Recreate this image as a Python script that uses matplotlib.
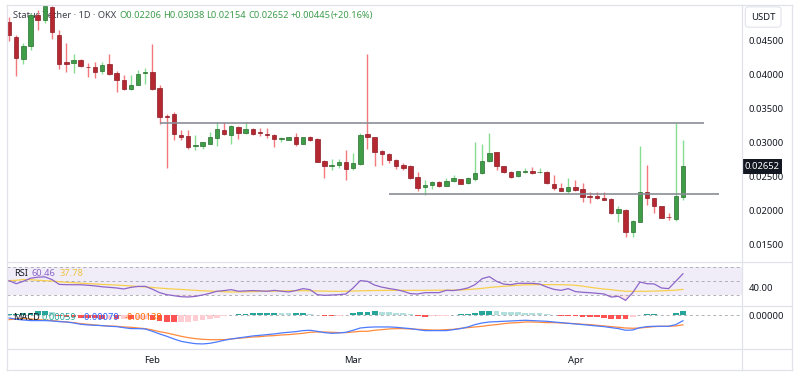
import numpy as np
import pandas as pd
import matplotlib
matplotlib.use('Agg')
import matplotlib.pyplot as plt
import matplotlib.transforms as mtransforms
from matplotlib.lines import Line2D

plt.rcParams['font.family'] = ['Noto Sans', 'DejaVu Sans']

# ---- data ----
start_date = '2025-01-12'

opens = [0.04767, 0.04548, 0.04226, 0.04416, 0.04877, 0.04793, 0.04988, 0.04573, 0.04177, 0.04167,
         0.04207, 0.04114, 0.04108, 0.04050, 0.04158, 0.04026, 0.03924, 0.03792, 0.03845, 0.04021,
         0.04035, 0.03801, 0.03393, 0.03415, 0.03111, 0.03097, 0.02946, 0.02946, 0.02979, 0.03067,
         0.03191, 0.03111, 0.03229, 0.03141, 0.03199, 0.03151, 0.03122, 0.03107, 0.03048, 0.03044,
         0.03078, 0.02971, 0.03088, 0.03059, 0.02730, 0.02657, 0.02672, 0.02711, 0.02623, 0.02682,
         0.03132, 0.03088, 0.02877, 0.02833, 0.02740, 0.02667, 0.02657, 0.02487, 0.02340, 0.02374,
         0.02413, 0.02359, 0.02437, 0.02466, 0.02399, 0.02462, 0.02545, 0.02726, 0.02862, 0.02652,
         0.02569, 0.02506, 0.02569, 0.02579, 0.02560, 0.02569, 0.02388, 0.02334, 0.02290, 0.02345,
         0.02311, 0.02208, 0.02208, 0.02188, 0.02164, 0.01968, 0.02007, 0.01689, 0.01836, 0.02267,
         0.02188, 0.02066, 0.01909, 0.01880, 0.02206]
highs = [0.04842, 0.04573, 0.04456, 0.04900, 0.04940, 0.05013, 0.04999, 0.04657, 0.04466, 0.04295,
         0.04221, 0.04167, 0.04182, 0.04182, 0.04295, 0.04045, 0.03987, 0.03987, 0.04070, 0.04100,
         0.04452, 0.03840, 0.03425, 0.03449, 0.03191, 0.03191, 0.03107, 0.03004, 0.03155, 0.03302,
         0.03302, 0.03254, 0.03239, 0.03302, 0.03210, 0.03214, 0.03214, 0.03132, 0.03078, 0.03085,
         0.03147, 0.03088, 0.03092, 0.03070, 0.02740, 0.02755, 0.02751, 0.02887, 0.02847, 0.03147,
         0.04305, 0.03088, 0.02897, 0.02847, 0.02751, 0.02692, 0.02667, 0.02564, 0.02447, 0.02437,
         0.02440, 0.02477, 0.02516, 0.02469, 0.02487, 0.03009, 0.02985, 0.03141, 0.02865, 0.02660,
         0.02584, 0.02584, 0.02623, 0.02643, 0.02623, 0.02579, 0.02520, 0.02399, 0.02472, 0.02447,
         0.02408, 0.02276, 0.02276, 0.02276, 0.02179, 0.02066, 0.02026, 0.01861, 0.02946, 0.02667,
         0.02188, 0.02073, 0.01959, 0.03287, 0.03038]
lows = [0.04490, 0.03972, 0.04148, 0.04353, 0.04647, 0.04754, 0.04525, 0.04075, 0.04035, 0.04021,
        0.04104, 0.03962, 0.03953, 0.04001, 0.03994, 0.03738, 0.03767, 0.03767, 0.03845, 0.03865,
        0.03767, 0.03279, 0.02619, 0.03044, 0.03034, 0.02912, 0.02887, 0.02912, 0.02975, 0.02950,
        0.03107, 0.02971, 0.03048, 0.03132, 0.03117, 0.03092, 0.03073, 0.02927, 0.03009, 0.03034,
        0.02956, 0.02971, 0.03026, 0.02711, 0.02481, 0.02594, 0.02623, 0.02447, 0.02594, 0.02667,
        0.02912, 0.02652, 0.02677, 0.02692, 0.02604, 0.02594, 0.02457, 0.02290, 0.02227, 0.02311,
        0.02349, 0.02359, 0.02422, 0.02384, 0.02388, 0.02437, 0.02535, 0.02715, 0.02594, 0.02545,
        0.02481, 0.02496, 0.02545, 0.02542, 0.02545, 0.02388, 0.02301, 0.02290, 0.02252, 0.02293,
        0.02129, 0.02114, 0.02164, 0.02149, 0.01944, 0.01831, 0.01616, 0.01607, 0.01836, 0.02081,
        0.01959, 0.01885, 0.01861, 0.01846, 0.02154]
closes = [0.04573, 0.04246, 0.04416, 0.04867, 0.04803, 0.04999, 0.04622, 0.04158, 0.04153, 0.04217,
          0.04119, 0.04104, 0.04041, 0.04144, 0.04001, 0.03924, 0.03786, 0.03851, 0.04012, 0.04035,
          0.03786, 0.03375, 0.03378, 0.03122, 0.03082, 0.02927, 0.02960, 0.03004, 0.03078, 0.03199,
          0.03122, 0.03239, 0.03141, 0.03199, 0.03132, 0.03141, 0.03111, 0.03048, 0.03063, 0.03078,
          0.02971, 0.03088, 0.03034, 0.02716, 0.02657, 0.02667, 0.02711, 0.02613, 0.02692, 0.03117,
          0.03082, 0.02868, 0.02829, 0.02740, 0.02652, 0.02633, 0.02476, 0.02325, 0.02378, 0.02422,
          0.02355, 0.02437, 0.02472, 0.02388, 0.02472, 0.02545, 0.02730, 0.02853, 0.02652, 0.02569,
          0.02496, 0.02575, 0.02579, 0.02545, 0.02569, 0.02399, 0.02325, 0.02290, 0.02345, 0.02301,
          0.02202, 0.02202, 0.02183, 0.02154, 0.01959, 0.02018, 0.01680, 0.01846, 0.02267, 0.02179,
          0.02066, 0.01894, 0.01900, 0.02213, 0.02652]
last_change = 0.00445
last_change_pct = 20.16

# horizontal levels drawn on the chart: price, first bar, last bar
resistance = [0.03293, 21, 97]
support = [0.02249, 53, 99]

rsi = [50.5, 46, 49.5, 54, 55.5, 56, 52, 45, 44.6, 44.5,
       44.5, 43.7, 42.8, 41.5, 40.7, 39.8, 38.3, 40.7, 42, 42.2,
       38, 33, 30, 28.5, 27, 26.6, 27.5, 29.5, 32, 35,
       36, 37.3, 35, 35.5, 36, 35.5, 35, 36.3, 35, 34,
       36, 38.8, 37.3, 30, 29, 29.5, 30, 31, 39.8, 50.5,
       49.5, 44, 41, 39, 37.3, 35, 31.5, 31, 32.9, 33,
       33, 36.3, 36, 37.5, 39.8, 44.6, 53.4, 56.3, 49.5, 45.5,
       44.6, 46.6, 46.6, 46.6, 45.6, 41.2, 37.8, 36.3, 38.8, 34.5,
       33.5, 32.9, 32, 31, 26.5, 27.6, 21.7, 32.9, 48.5, 46,
       45.6, 39.8, 38.8, 49.5, 60.46]
rsi_ma = [50.5, 51, 52, 51.8, 51, 50.5, 49.8, 49, 48, 47.5,
          46.8, 46.2, 45.6, 45, 44.5, 44, 43.4, 42.7, 42, 41.3,
          40.5, 39.6, 38.8, 38.2, 37.6, 37, 36.3, 35.7, 35.2, 34.8,
          34.3, 33.9, 34, 34.2, 34.5, 34.8, 34.9, 35.2, 35.5, 35.7,
          35.9, 35.8, 35.6, 35.4, 35.2, 34.9, 34.9, 35, 35.3, 35.6,
          35.9, 36.1, 36.2, 36.3, 36.3, 36.3, 36.3, 36.3, 36.3, 36.4,
          36.5, 36.6, 36.7, 36.9, 37.5, 38.3, 39.2, 40.5, 41.4, 42.2,
          43, 43.8, 44.4, 44.6, 44.7, 44.7, 44.6, 44.6, 44.3, 43.7,
          42.5, 40.8, 39.5, 38.2, 37.3, 36, 35, 34.9, 34.9, 35,
          35.3, 35.6, 36, 36.6, 37.78]

macd = [-0.00039, -0.00058, -0.00068, -0.00077, -0.00077, -0.00077, -0.00082, -0.00092, -0.00097, -0.00111,
        -0.00130, -0.00140, -0.00145, -0.00150, -0.00159, -0.00164, -0.00179, -0.00193, -0.00193, -0.00198,
        -0.00232, -0.00270, -0.00304, -0.00343, -0.00377, -0.00396, -0.00411, -0.00415, -0.00406, -0.00386,
        -0.00362, -0.00343, -0.00328, -0.00314, -0.00299, -0.00290, -0.00280, -0.00270, -0.00256, -0.00246,
        -0.00237, -0.00222, -0.00217, -0.00232, -0.00251, -0.00261, -0.00256, -0.00246, -0.00217, -0.00184,
        -0.00174, -0.00169, -0.00169, -0.00169, -0.00174, -0.00184, -0.00193, -0.00208, -0.00222, -0.00222,
        -0.00222, -0.00222, -0.00208, -0.00193, -0.00169, -0.00135, -0.00111, -0.00097, -0.00092, -0.00087,
        -0.00082, -0.00077, -0.00072, -0.00077, -0.00082, -0.00087, -0.00097, -0.00106, -0.00116, -0.00126,
        -0.00135, -0.00145, -0.00155, -0.00164, -0.00179, -0.00193, -0.00217, -0.00213, -0.00179, -0.00164,
        -0.00159, -0.00159, -0.00159, -0.00135, -0.00079]
signal = [-0.00063, -0.00053, -0.00048, -0.00053, -0.00063, -0.00068, -0.00077, -0.00087, -0.00097, -0.00106,
          -0.00121, -0.00130, -0.00140, -0.00150, -0.00155, -0.00159, -0.00169, -0.00174, -0.00184, -0.00193,
          -0.00213, -0.00237, -0.00256, -0.00280, -0.00304, -0.00324, -0.00338, -0.00348, -0.00353, -0.00353,
          -0.00353, -0.00343, -0.00333, -0.00324, -0.00314, -0.00309, -0.00299, -0.00295, -0.00285, -0.00280,
          -0.00270, -0.00261, -0.00246, -0.00242, -0.00242, -0.00246, -0.00251, -0.00251, -0.00242, -0.00232,
          -0.00232, -0.00217, -0.00208, -0.00198, -0.00193, -0.00193, -0.00198, -0.00203, -0.00208, -0.00213,
          -0.00213, -0.00208, -0.00203, -0.00188, -0.00179, -0.00169, -0.00159, -0.00145, -0.00135, -0.00121,
          -0.00111, -0.00106, -0.00097, -0.00097, -0.00101, -0.00106, -0.00106, -0.00111, -0.00116, -0.00121,
          -0.00130, -0.00135, -0.00145, -0.00155, -0.00164, -0.00174, -0.00184, -0.00188, -0.00184, -0.00174,
          -0.00164, -0.00159, -0.00159, -0.00155, -0.00138]
hist = [0.00014, 0.00019, 0.00029, 0.00039, 0.00058, 0.00068, 0.00043, -0.00010, -0.00019, -0.00029,
        -0.00034, -0.00039, -0.00043, -0.00048, -0.00048, -0.00053, -0.00053, -0.00058, -0.00058, -0.00058,
        -0.00068, -0.00082, -0.00092, -0.00097, -0.00097, -0.00097, -0.00087, -0.00072, -0.00053, -0.00034,
        -0.00014, 0.00010, 0.00019, 0.00024, 0.00029, 0.00034, 0.00039, 0.00040, 0.00034, 0.00033,
        0.00039, 0.00040, 0.00024, 0.00010, -0.00010, -0.00014, -0.00005, 0.00010, 0.00034, 0.00048,
        0.00050, 0.00058, 0.00053, 0.00048, 0.00039, 0.00029, 0.00014, -0.00014, -0.00019, -0.00014,
        -0.00010, -0.00005, 0.00010, 0.00014, 0.00024, 0.00039, 0.00058, 0.00068, 0.00058, 0.00053,
        0.00048, 0.00043, 0.00039, 0.00034, 0.00029, 0.00019, 0.00010, -0.00005, -0.00010, -0.00014,
        -0.00019, -0.00020, -0.00024, -0.00039, -0.00048, -0.00053, -0.00054, -0.00029, 0.00010, 0.00014,
        0.00015, 0.00010, 0.00005, 0.00029, 0.00059]

price_ticks = [0.015, 0.020, 0.025, 0.030, 0.035, 0.040, 0.045]

# ---- colours ----
UP, UP_EDGE, UP_WICK = '#3f9c47', '#2b6d31', '#86de92'
DN, DN_EDGE, DN_WICK = '#b52832', '#8a1c24', '#f4797e'
TXT = '#131722'
GRID = '#e0e3eb'

o = np.array(opens); h = np.array(highs); l = np.array(lows); c = np.array(closes)
x = np.arange(len(o))
up = c >= o
XLIM = (-0.24, 102.2)

W, H = 800, 380
fig = plt.figure(figsize=(8, 3.8), dpi=100)

def box(left, top, right, bottom):
    return [left / W, 1 - bottom / H, (right - left) / W, (bottom - top) / H]

ax = fig.add_axes(box(7.3, 5, 741.7, 262))
ax_r = fig.add_axes(box(7.3, 262, 741.7, 305.7))
ax_m = fig.add_axes(box(7.3, 305.7, 741.7, 348.7))

for a in (ax, ax_r, ax_m):
    for s in a.spines.values():
        s.set_visible(False)
    a.set_xlim(*XLIM)
    a.yaxis.tick_right()
    a.tick_params(axis='both', length=0, labelsize=6.8, labelcolor=TXT, pad=5)
    a.set_xticks([])

# ---- candles ----
ax.vlines(x[up], l[up], h[up], color=UP_WICK, lw=1.0, zorder=2)
ax.vlines(x[~up], l[~up], h[~up], color=DN_WICK, lw=1.0, zorder=2)
body_lo = np.minimum(o, c)
body_h = np.maximum(np.abs(c - o), 0.00008)
ax.bar(x[up], body_h[up], bottom=body_lo[up], width=0.62, color=UP, edgecolor=UP_EDGE, lw=0.5, zorder=3)
ax.bar(x[~up], body_h[~up], bottom=body_lo[~up], width=0.62, color=DN, edgecolor=DN_EDGE, lw=0.5, zorder=3)

ax.hlines(resistance[0], resistance[1], resistance[2], color='#8a8d96', lw=1.2, zorder=4)
ax.hlines(support[0], support[1], support[2], color='#8a8d96', lw=1.2, zorder=4)

ax.set_ylim(0.01245, 0.0502)
ax.set_yticks(price_ticks)
ax.set_yticklabels(['%.5f' % t for t in price_ticks])

# last price tag
trans = mtransforms.blended_transform_factory(ax.transAxes, ax.transData)
ax.text(1.004, c[-1], '%.5f' % c[-1], transform=trans, ha='left', va='center',
        color='white', fontsize=6.8, fontweight='bold', zorder=6, clip_on=False,
        bbox=dict(boxstyle='square,pad=0.3', fc=TXT, ec='none'))

# header legend
hy = 1 - 15.7 / H
ax.text(13.3 / W, hy, 'Status Tether · 1D · OKX', transform=fig.transFigure,
        fontsize=6.7, color='#3b3e48', va='center', zorder=1)
green_txt = '#3d9c4b'
header = [(119.3, 'O%.5f' % o[-1]), (162.7, 'H%.5f' % h[-1]), (205.7, 'L%.5f' % l[-1]),
          (248.3, 'C%.5f' % c[-1]), (291, '+%.5f' % last_change),
          (331, '(+%.2f%%)' % last_change_pct)]
for px, s in header:
    ax.text(px / W, hy, s, transform=fig.transFigure, fontsize=6.7, color=green_txt,
            va='center', zorder=1)

# ---- RSI pane ----
r = np.array(rsi)
ax_r.axhspan(30, 70, color='#7e57c2', alpha=0.1, lw=0)
for lev in (70, 50, 30):
    ax_r.axhline(lev, color='#8f929b', lw=0.7, ls=(0, (3, 3)), alpha=0.7)
ax_r.fill_between(x, r, 30, where=r < 30, interpolate=True, color='#f23645', alpha=0.12, lw=0)
ax_r.plot(x, rsi_ma, color='#f7cf4d', lw=0.9)
ax_r.plot(x, r, color='#8d65c9', lw=0.9)
ax_r.set_ylim(13.9, 77.7)
ax_r.set_yticks([40])
ax_r.set_yticklabels(['40.00'])
ry = 1 - 273.7 / H
fig.text(14 / W, ry, 'RSI', fontsize=6.7, color=TXT, va='center')
fig.text(31.7 / W, ry, '%.2f' % rsi[-1], fontsize=6.7, color='#8d65c9', va='center')
fig.text(60 / W, ry, '%.2f' % rsi_ma[-1], fontsize=6.7, color='#f0c33c', va='center')

# ---- MACD pane ----
hv = np.array(hist)
prev = np.concatenate([[0], hv[:-1]])
cols = np.where(hv >= 0, np.where(hv >= prev, '#26a69a', '#b2dfdb'),
                np.where(hv < prev, '#ff5252', '#ffcdd2'))
my = 1 - 318 / H
fig.text(13.3 / W, my, 'MACD', fontsize=6.7, color=TXT, va='center')
fig.text(41.7 / W, my, '%.5f' % hist[-1], fontsize=6.7, color='#26a69a', va='center')
fig.text(81.7 / W, my, '%.5f' % macd[-1], fontsize=6.7, color='#2962ff', va='center')
fig.text(125 / W, my, '%.5f' % signal[-1], fontsize=6.7, color='#ff6d00', va='center')
ax_m.axhline(0, color='#8f929b', lw=0.7, ls=(0, (3, 3)), alpha=0.7)
ax_m.bar(x, hv, width=0.8, color=cols, zorder=2)
ax_m.plot(x, signal, color='#ff8a3d', lw=0.9, zorder=3)
ax_m.plot(x, macd, color='#4d7bff', lw=0.9, zorder=3)
ax_m.set_ylim(-0.00484, 0.00139)
ax_m.set_yticks([0])
ax_m.set_yticklabels(['0.00000'])

# date axis
dates = pd.date_range(start_date, periods=len(o))
month_pos = np.where(dates.day == 1)[0]
ax_m.set_xticks(month_pos)
ax_m.set_xticklabels(dates[month_pos].strftime('%b'))
ax_m.tick_params(axis='x', pad=5, labelsize=6.8, labelcolor=TXT)

# currency box
fig.text(751 / W, 1 - 17 / H, 'USDT', fontsize=6.8, color=TXT, va='center',
         bbox=dict(boxstyle='round,pad=0.6,rounding_size=0.35', fc='white', ec=GRID, lw=0.8))

# frame lines
def fline(xs, ys):
    fig.add_artist(Line2D([p / W for p in xs], [1 - p / H for p in ys], color=GRID, lw=0.9))

fline([7.3, 791.7], [4.7, 4.7])
for yy in (262, 305.7, 348.7, 369.7):
    fline([7.3, 791.7], [yy, yy])
fline([7.3, 7.3], [4.7, 369.7])
fline([741.7, 741.7], [4.7, 369.7])
fline([791.7, 791.7], [4.7, 369.7])

fig.savefig('out.png', dpi=100)
